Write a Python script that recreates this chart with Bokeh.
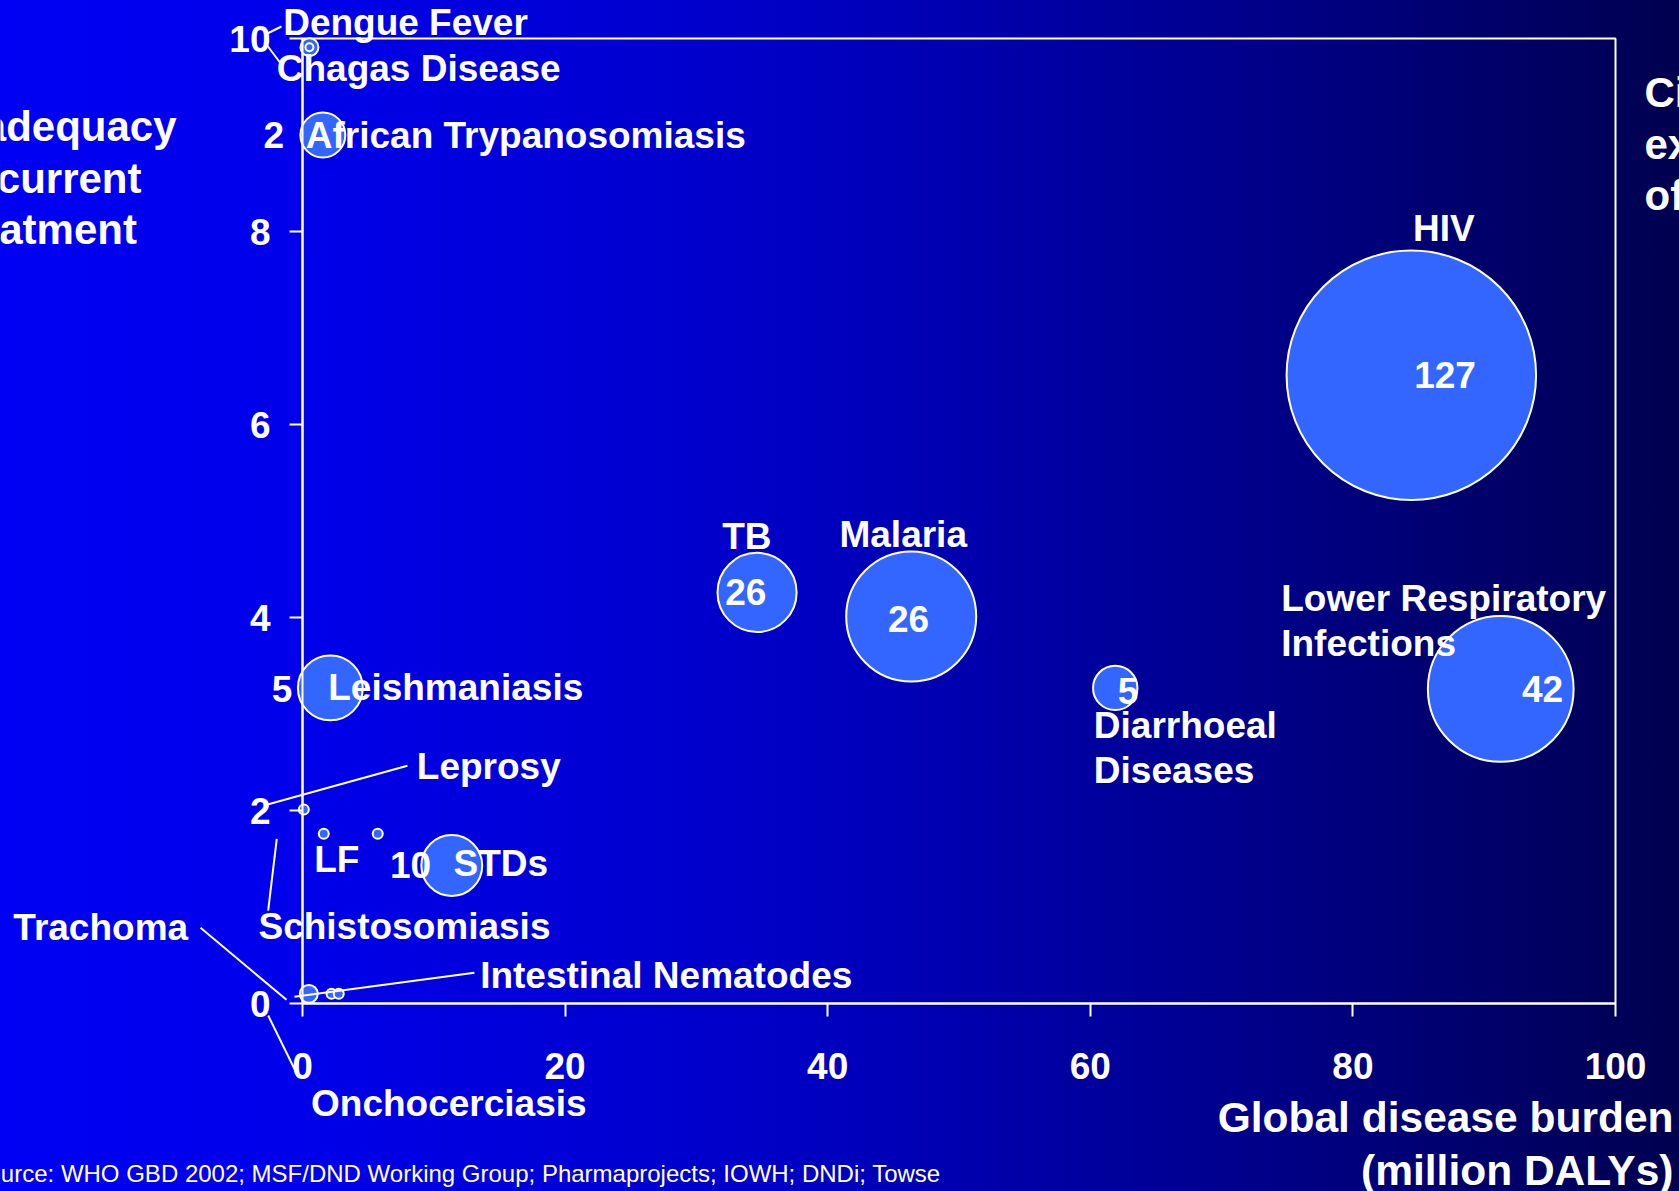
from bokeh.plotting import figure
from bokeh.models import Range1d, FixedTicker, Label, Arrow
from bokeh.embed import file_html
from bokeh.resources import INLINE

# ---------------- data ----------------
diseases = ["HIV", "Lower Respiratory Infections", "Malaria", "TB", "Diarrhoeal Diseases",
            "Leishmaniasis", "African Trypanosomiasis", "STDs", "Chagas Disease", "Dengue Fever",
            "Leprosy", "Schistosomiasis", "LF", "Onchocerciasis", "Trachoma", "Intestinal Nematodes"]
burden = [84.45, 91.26, 46.36, 34.62, 61.9, 2.12, 1.55, 11.37, 0.53, 0.53,
          0.1, 1.62, 5.73, 0.48, 2.21, 2.76]          # million DALYs
inadequacy = [6.51, 3.26, 4.01, 4.26, 3.27, 3.27, 9.0, 1.43, 9.91, 9.91,
              2.01, 1.76, 1.76, 0.1, 0.1, 0.1]
circle_size = [100, 58.4, 52.1, 31.7, 17.8, 26, 18, 24.4, 7.2, 3.2,
               4, 4, 4, 7.2, 4, 4]                       # relative diameter
counts = {"HIV": "127", "Lower Respiratory Infections": "42", "Malaria": "26", "TB": "26",
          "Diarrhoeal Diseases": "5", "Leishmaniasis": "5", "African Trypanosomiasis": "2", "STDs": "10"}
x_ticks = [0, 20, 40, 60, 80, 100]
y_ticks = [0, 2, 4, 6, 8, 10]

# ---------------- layout ----------------
W, H = 1679, 1191
BL, BR, BT, BB = 302, 64, 38, 188          # where the plot box sits in the page
FW, FH = W - BL - BR, H - BT - BB
X0, X1 = x_ticks[0], x_ticks[-1]
Y0, Y1 = y_ticks[0], y_ticks[-1]
XS, YS = FW / (X1 - X0), FH / (Y1 - Y0)
FONT = "Liberation Sans"

p = figure(width=W, height=H,
           x_range=Range1d(X0 - BL / XS, X1 + BR / XS),
           y_range=Range1d(Y0 - BB / YS, Y1 + BT / YS),
           output_backend="svg", toolbar_location=None, min_border=0)
p.background_fill_alpha = 0
p.border_fill_alpha = 0
p.styles = {"background": "linear-gradient(to right, #0000f4 0%, #0000ea 18%, #0000c8 45%, #000090 72%, #000050 100%)"}
p.outline_line_color = None
p.xgrid.visible = False
p.ygrid.visible = False

# plot box (top/right edges)
p.quad(left=[X0], right=[X1], bottom=[Y0], top=[Y1], fill_alpha=0,
       line_color="white", line_width=2)

for ax, ticks, b in ((p.xaxis, x_ticks, (X0, X1)), (p.yaxis, y_ticks, (Y0, Y1))):
    ax.ticker = FixedTicker(ticks=ticks)
    ax.bounds = b
    ax.minor_tick_line_color = None
    ax.major_tick_in = 0
    ax.major_tick_out = 13
    ax.major_tick_line_color = "white"
    ax.major_tick_line_width = 2
    ax.axis_line_color = "white"
    ax.axis_line_width = 2
    ax.major_label_text_color = "white"
    ax.major_label_text_font = FONT
    ax.major_label_text_font_style = "bold"
    ax.major_label_text_font_size = "37px"
p.xaxis.fixed_location = Y0
p.yaxis.fixed_location = X0
p.xaxis.major_label_standoff = 36
p.yaxis.major_label_standoff = 19

diam = [s * 2.495 for s in circle_size]
p.scatter(burden, inadequacy, size=diam, fill_color="#3366ff", line_color="white", line_width=2)

idx = {n: i for i, n in enumerate(diseases)}


def pos(name, dx, dy):
    i = idx[name]
    return burden[i] + dx / XS, inadequacy[i] - dy / YS


def label(text, x, y, align="left", size="37px", style="bold"):
    p.add_layout(Label(x=x, y=y, text=text, text_align=align, text_baseline="middle",
                       text_color="white", text_font=FONT, text_font_style=style,
                       text_font_size=size))


def blabel(name, text, dx, dy, align="left"):
    x, y = pos(name, dx, dy)
    label(text, x, y, align)


def leader(name, d0, d1):
    x0, y0 = pos(name, *d0)
    x1, y1 = pos(name, *d1)
    p.add_layout(Arrow(x_start=x0, y_start=y0, x_end=x1, y_end=y1, end=None,
                       line_color="white", line_width=2))


# leader lines
leader("Dengue Fever", (-42, -13.7), (-28, -20.7))
leader("Chagas Disease", (-43, -2.7), (-28, 17.3))
leader("Leprosy", (-39.9, -4), (103.6, -43.7))
leader("Schistosomiasis", (-47, 5.1), (-55.6, 76.9))
leader("Trachoma", (-131, -66), (-45, 6))
leader("Intestinal Nematodes", (-44.3, 3), (135.7, -21))
leader("Onchocerciasis", (-40.6, 21.7), (-10.6, 82.7))

# count labels
count_off = {"HIV": (33.7, 0), "Lower Respiratory Infections": (41.8, 0), "Malaria": (-2.7, 2),
             "TB": (-11.2, 0), "Diarrhoeal Diseases": (12.9, 3), "Leishmaniasis": (-48.2, 1),
             "African Trypanosomiasis": (-49, 0), "STDs": (-41.3, -1)}
for n, t in counts.items():
    dx, dy = count_off[n]
    blabel(n, t, dx, dy, "center")

# name labels
blabel("HIV", "HIV", 32.6, -146.8, "center")
blabel("Lower Respiratory Infections", "Lower Respiratory", -219.5, -90.5)
blabel("Lower Respiratory Infections", "Infections", -219.5, -45.5)
blabel("Malaria", "Malaria", -8, -82.4, "center")
blabel("TB", "TB", -10.2, -55.7, "center")
blabel("Diarrhoeal Diseases", "Diarrhoeal", -21.4, 37.5)
blabel("Diarrhoeal Diseases", "Diseases", -21.4, 82.5)
blabel("Leishmaniasis", "Leishmaniasis", -2.1, 0)
blabel("African Trypanosomiasis", "African Trypanosomiasis", -17.1, 0)
blabel("STDs", "STDs", 1.7, -2)
blabel("Chagas Disease", "Chagas Disease", -32.7, 21.8)
blabel("Dengue Fever", "Dengue Fever", -26.3, -24.2)
blabel("Leprosy", "Leprosy", 113, -42.6)
blabel("Schistosomiasis", "Schistosomiasis", -65.3, 93)
blabel("LF", "LF", -63.6, 25.5)
blabel("Onchocerciasis", "Onchocerciasis", 2.2, 109.7)
blabel("Trachoma", "Trachoma", -318.2, -66.8)
blabel("Intestinal Nematodes", "Intestinal Nematodes", 141.4, -18.6)


# titles and notes (page pixel positions)
def px_x(px):
    return X0 + (px - BL) / XS


def px_y(py):
    return Y0 + (BT + FH - py) / YS


label("Inadequacy", px_x(-55), px_y(126.4), size="42px")
label("of current", px_x(-55), px_y(177.8), size="42px")
label("treatment", px_x(-55), px_y(229.2), size="42px")
label("Circle size =", px_x(1644), px_y(92), size="42px")
label("expenditure", px_x(1644), px_y(143.5), size="42px")
label("of R&D", px_x(1644), px_y(195), size="42px")
label("Global disease burden", px_x(1673), px_y(1116.8), align="right", size="42.5px")
label("(million DALYs)", px_x(1673), px_y(1170.4), align="right", size="42.5px")
label("Source: WHO GBD 2002; MSF/DND Working Group; Pharmaprojects; IOWH; DNDi; Towse",
      px_x(-29), px_y(1172.5), size="24px", style="normal")

open("out.html", "w").write(file_html(p, INLINE))
